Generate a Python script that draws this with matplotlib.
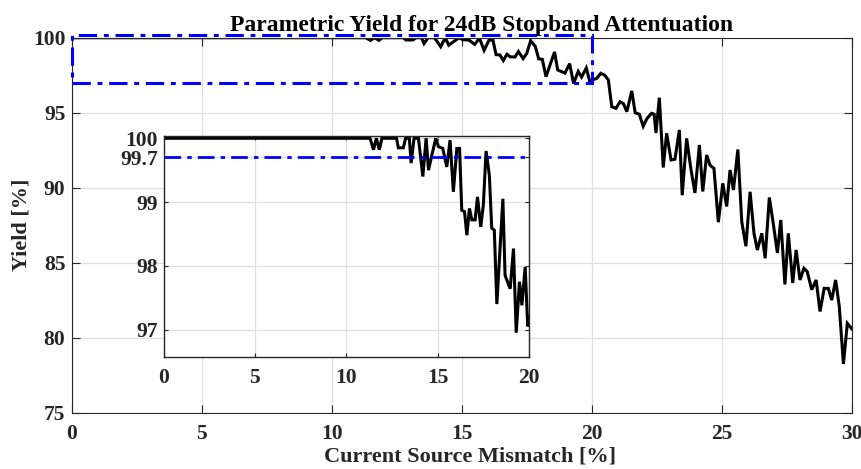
import matplotlib
matplotlib.use("Agg")
import matplotlib.pyplot as plt
from matplotlib.patches import Rectangle

# Monte-Carlo yield vs. current source mismatch
mismatch_pct = [
    0.0, 11.3, 11.49, 11.65, 11.81, 11.95, 12.75, 12.85, 13.12, 13.25, 13.45,
    13.55, 13.71, 13.95, 14.19, 14.37, 14.5, 14.68, 14.9, 15.04, 15.28, 15.5,
    15.68, 15.86, 16.05, 16.2, 16.32, 16.47, 16.6, 16.74, 16.87, 17.05, 17.18,
    17.36, 17.5, 17.65, 17.83, 17.96, 18.1, 18.24, 18.57, 18.69, 18.97, 19.15,
    19.3, 19.48, 19.61, 19.79, 19.93, 20.05, 20.19, 20.35, 20.5, 20.64, 20.77,
    20.93, 21.09, 21.22, 21.35, 21.54, 21.67, 21.83, 21.98, 22.12, 22.3, 22.4,
    22.47, 22.6, 22.75, 22.88, 23.05, 23.2, 23.37, 23.48, 23.65, 23.81, 23.97,
    24.14, 24.27, 24.42, 24.55, 24.7, 24.87, 25.04, 25.19, 25.32, 25.45, 25.62,
    25.77, 25.93, 26.09, 26.24, 26.37, 26.54, 26.67, 26.83, 26.98, 27.14, 27.27,
    27.43, 27.56, 27.73, 27.86, 28.01, 28.16, 28.29, 28.46, 28.63, 28.78, 28.94,
    29.1, 29.23, 29.38, 29.52, 29.68, 29.83, 30.0,
]
yield_pct = [
    100.0, 100.0, 99.82, 100.0, 99.82, 100.0, 100.0, 99.85, 99.85, 100.0, 100.0,
    99.61, 100.0, 100.0, 99.4, 100.0, 99.5, 99.73, 100.0, 99.87, 99.84, 99.55,
    99.97, 99.16, 99.84, 99.84, 98.87, 98.85, 98.48, 98.9, 98.72, 98.72, 99.08,
    98.61, 98.95, 99.8, 99.42, 98.59, 98.56, 97.4, 99.05, 97.85, 97.64, 98.27,
    96.95, 97.75, 97.38, 97.98, 97.05, 97.2, 97.29, 97.63, 97.5, 97.18, 95.4,
    95.29, 95.73, 95.6, 95.07, 96.45, 95.0, 94.9, 94.1, 94.6, 94.96, 94.9,
    93.65, 96.0, 91.35, 93.63, 91.85, 91.9, 93.85, 89.5, 93.29, 91.29, 89.65,
    92.85, 89.75, 92.18, 91.5, 91.29, 87.7, 90.29, 88.75, 91.18, 89.85, 92.55,
    87.73, 86.1, 89.73, 86.96, 85.85, 86.96, 85.3, 89.35, 87.63, 85.65, 87.85,
    83.55, 86.96, 83.65, 85.85, 83.85, 84.63, 84.4, 83.2, 83.85, 81.75, 83.29,
    83.29, 82.51, 83.85, 82.1, 78.25, 80.96, 80.6,
]
# zoomed window and spec line
zoom_x = [0, 20]
zoom_y = [96.96, 100.18]
spec_yield = 99.7

main_xticks = [0, 5, 10, 15, 20, 25, 30]
main_yticks = [75, 80, 85, 90, 95, 100]
inset_xticks = [0, 5, 10, 15, 20]
inset_yticks = [97, 98, 99, 99.7, 100]

plt.rcParams['font.family'] = ['Liberation Serif', 'DejaVu Serif']
plt.rcParams['font.weight'] = 'bold'
plt.rcParams['axes.labelweight'] = 'bold'
plt.rcParams['axes.titleweight'] = 'bold'

axis_gray = '#262626'
grid_gray = '#dfdfdf'
dashdot = (0, (6, 2.2, 1.6, 2.2))

fig = plt.figure(figsize=(8.62, 4.69), dpi=100)
ax = fig.add_axes([0.0832, 0.12, 0.9049, 0.7996])

ax.plot(mismatch_pct, yield_pct, color='black', lw=2.2, solid_joinstyle='miter')
ax.add_patch(Rectangle((zoom_x[0], zoom_y[0]), zoom_x[1] - zoom_x[0],
                       zoom_y[1] - zoom_y[0], fill=False, edgecolor='blue',
                       lw=2.2, linestyle=dashdot, clip_on=False, zorder=5))

ax.set_xlim(0, 30)
ax.set_ylim(75, 100)
ax.set_xticks(main_xticks)
ax.set_yticks(main_yticks)
ax.grid(True, color=grid_gray, lw=0.9)
ax.set_axisbelow(True)
ax.tick_params(direction='in', length=5.5, width=0.8, colors=axis_gray,
               labelsize=15.5, top=True, right=True)
ax.tick_params(axis='x', pad=8)
ax.tick_params(axis='y', pad=4.5)
for s in ax.spines.values():
    s.set_color(axis_gray)
    s.set_linewidth(0.8)
ax.set_title('Parametric Yield for 24dB Stopband Attentuation', fontsize=17,
             pad=5, color='black', x=0.526)
ax.set_xlabel('Current Source Mismatch [%]', fontsize=16, labelpad=2,
              color=axis_gray, x=0.511)
ax.set_ylabel('Yield [%]', fontsize=16, labelpad=1, color=axis_gray)

# inset zoom on the high-yield region
axi = fig.add_axes([0.1897, 0.2388, 0.424, 0.4719])
axi.plot(mismatch_pct, yield_pct, color='black', lw=2.2, solid_joinstyle='miter')
axi.axhline(spec_yield, color='blue', lw=2.0, linestyle=dashdot)
axi.set_xlim(0, 20)
axi.set_ylim(96.57, 100.04)
axi.set_xticks(inset_xticks)
axi.set_yticks(inset_yticks)
axi.set_yticklabels(['97', '98', '99', '99.7', '100'])
axi.grid(True, color=grid_gray, lw=0.9)
axi.set_axisbelow(True)
axi.tick_params(direction='in', length=2.7, width=0.8, colors=axis_gray,
                labelsize=15.5, top=True, right=True)
axi.tick_params(axis='x', pad=8)
axi.tick_params(axis='y', pad=4)
for s in axi.spines.values():
    s.set_color(axis_gray)
    s.set_linewidth(1.0)

fig.savefig('out.png', dpi=100)
